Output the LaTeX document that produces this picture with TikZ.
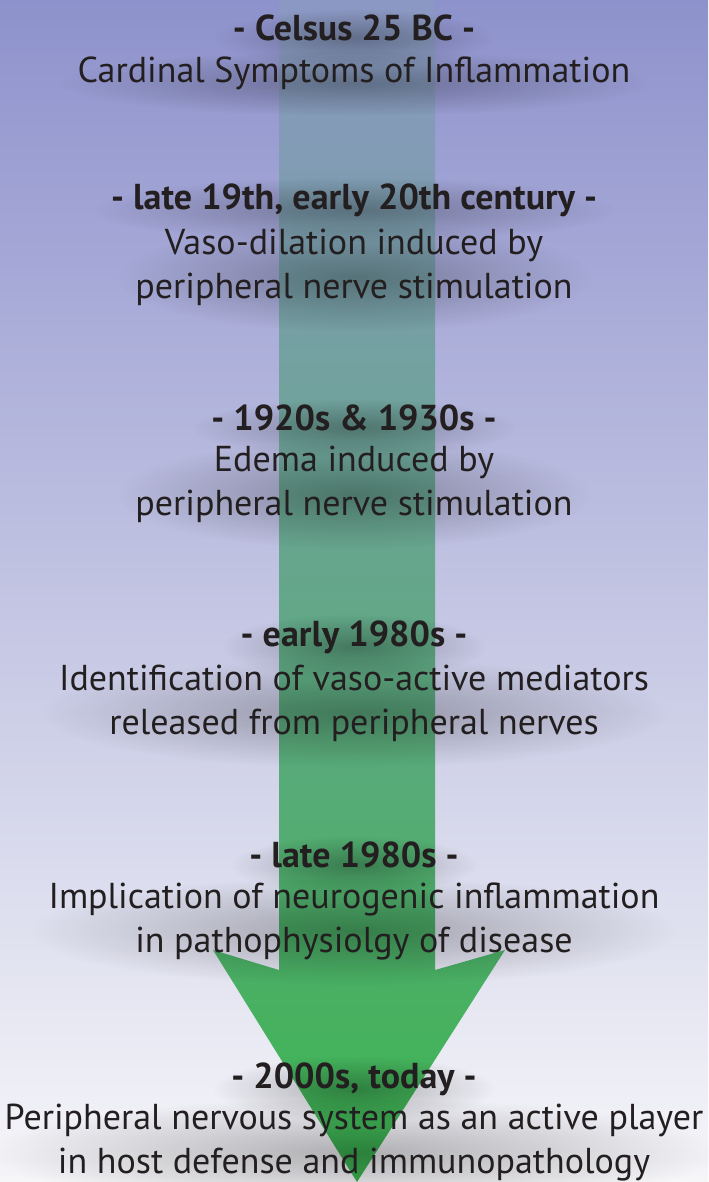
\documentclass[tikz,border=0pt]{standalone}
\usepackage{fontspec}
\setmainfont{PT Sans}
\usepackage{tikz}
\usetikzlibrary{fadings, calc}

\definecolor{bgtop}{HTML}{8E92CC}
\definecolor{bgmid}{HTML}{D8D8EA}
\definecolor{bgbot}{HTML}{F6F6F9}
\definecolor{arrowtop}{HTML}{8C98C4}
\definecolor{arrowmid}{HTML}{6AAA8A}
\definecolor{arrowbot}{HTML}{3CB550}
\definecolor{ink}{HTML}{231F20}

\pgfdeclarelayer{backdrop}
\pgfdeclarelayer{shadow}
\pgfsetlayers{backdrop,shadow,main}

\tikzfading[name=softshadow, inner color=transparent!30, outer color=transparent!100]

% blurred shadow under a text node
\newcommand{\dropshadow}[1]{%
  \path[blur] let \p1=($(#1.east)-(#1.west)$), \p2=($(#1.north)-(#1.south)$) in
    ($(#1.center)+(0,10)$) ellipse ({0.5*\x1+14pt} and {0.5*\y2+12pt});}

\begin{document}
\begin{tikzpicture}[
    x=0.75pt, y=-0.75pt,
    era/.style={font=\fontsize{27}{33}\selectfont\bfseries, text=ink, inner sep=0pt},
    finding/.style={font=\fontsize{27}{33}\selectfont, text=ink, align=center, inner sep=0pt},
    blur/.style={fill=black, opacity=0.4, path fading=softshadow}
]
\useasboundingbox (0,0) rectangle (708,1182);
\begin{pgfonlayer}{backdrop}
\shade[top color=bgtop, middle color=bgmid, bottom color=bgbot] (0,0) rectangle (708,1182);
% the time arrow
\shade[top color=arrowtop, middle color=arrowmid, bottom color=arrowbot]
    (279,0) -- (435,0) -- (435,970) -- (505,950) -- (357,1182)
    -- (213,950) -- (279,970) -- cycle;
\end{pgfonlayer}
% eras and findings
\node[era] (celsus) at (354,28) {- Celsus 25 BC -};
\node[finding] (cardinal) at (354,73) {Cardinal Symptoms of Inflammation};
\node[era] (c19) at (354,200) {- late 19th, early 20th century -};
\node[finding] (vasodil) at (354,267.5) {Vaso-dilation induced by\\peripheral nerve stimulation};
\node[era] (c1920) at (354,418) {- 1920s \& 1930s -};
\node[finding] (edema) at (354,484.5) {Edema induced by\\peripheral nerve stimulation};
\node[era] (e1980) at (354,637) {- early 1980s -};
\node[finding] (mediators) at (354,703) {Identification of vaso-active mediators\\released from peripheral nerves};
\node[era] (l1980) at (354,855) {- late 1980s -};
\node[finding] (neurogenic) at (354,921) {Implication of neurogenic inflammation\\in pathophysiolgy of disease};
\node[era] (today) at (354,1079) {- 2000s, today -};
\node[finding] (player) at (354,1143) {Peripheral nervous system as an active player\\in host defense and immunopathology};
\begin{pgfonlayer}{shadow}
\foreach \blk in {celsus,cardinal,c19,vasodil,c1920,edema,e1980,mediators,l1980,neurogenic,today,player}
    \dropshadow{\blk};
\end{pgfonlayer}
\end{tikzpicture}
\end{document}
